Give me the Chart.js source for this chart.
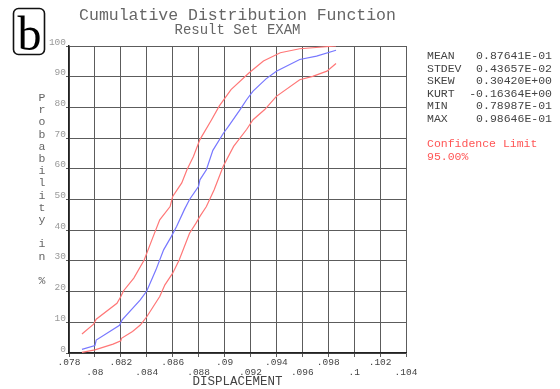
<!DOCTYPE html>
<html>
<head>
<meta charset="utf-8">
<script src="https://cdn.jsdelivr.net/npm/chart.js@4/dist/chart.umd.min.js"></script>
<style>
  html, body { margin: 0; padding: 0; background: #fff; }
  canvas { display: block; }
</style>
</head>
<body>
<canvas id="cdf" width="560" height="389"></canvas>
<script>
// Empirical CDF of the displacement results, with 95% confidence band
const centerX = [0.0790, 0.0800, 0.0801, 0.0819, 0.0821, 0.0835, 0.0840, 0.0847, 0.0853, 0.0859, 0.0863, 0.0869, 0.0873, 0.0880, 0.0881, 0.0886, 0.0891, 0.0899, 0.0903, 0.0912, 0.0917, 0.0922, 0.0932, 0.0940, 0.0958, 0.0971, 0.0986];
const centerP = [1.2, 2.4, 4.2, 9.0, 10.8, 17.3, 20.2, 27.0, 33.6, 38.0, 41.2, 46.7, 50.0, 54.3, 56.4, 59.7, 66.0, 71.5, 73.8, 79.3, 82.5, 85.3, 89.3, 91.8, 95.6, 96.7, 98.6];

const upperX = [0.0790, 0.0799, 0.0801, 0.0817, 0.0820, 0.0822, 0.0830, 0.0838, 0.0845, 0.0850, 0.0858, 0.0860, 0.0867, 0.0871, 0.0876, 0.0881, 0.0890, 0.0896, 0.0905, 0.0919, 0.0930, 0.0943, 0.0958, 0.0986];
const upperP = [6.2, 9.4, 11.0, 16.2, 18.4, 20.2, 24.4, 30.3, 38.0, 43.4, 47.7, 51.0, 55.4, 59.7, 64.0, 69.5, 76.0, 80.5, 85.8, 91.3, 95.1, 97.8, 99.1, 100.0];

const lowerX = [0.0790, 0.0800, 0.0814, 0.0820, 0.08205, 0.0829, 0.0835, 0.0840, 0.0850, 0.0854, 0.0860, 0.0865, 0.0873, 0.0878, 0.0881, 0.0886, 0.0892, 0.0899, 0.0907, 0.0917, 0.0922, 0.0931, 0.0940, 0.0958, 0.0968, 0.0979, 0.0986];
const lowerP = [0.2, 1.0, 2.9, 4.0, 4.8, 7.0, 9.1, 11.8, 18.4, 22.2, 26.0, 30.3, 39.0, 42.3, 44.5, 47.7, 53.2, 60.8, 67.3, 72.8, 76.0, 79.3, 83.6, 89.0, 90.1, 91.8, 94.3];

const xTickLabels = ['.078', '.08', '.082', '.084', '.086', '.088', '.09', '.092', '.094', '.096', '.098', '.1', '.102', '.104'];
const yTickLabels = ['0', '10', '20', '30', '40', '50', '60', '70', '80', '90', '100'];

const statNames = ['MEAN', 'STDEV', 'SKEW', 'KURT', 'MIN', 'MAX'];
const statValues = ['0.87641E-01', '0.43657E-02', '0.30420E+00', '-0.16364E+00', '0.78987E-01', '0.98646E-01'];

const MONO = '"Liberation Mono", "DejaVu Sans Mono", monospace';

function toPoints(xs, ys) {
  return xs.map((x, i) => ({ x: x, y: ys[i] }));
}

// Titles, panel letter, vertical axis caption and statistics block
const annotations = {
  id: 'annotations',
  afterDraw(chart) {
    const ctx = chart.ctx;
    const area = chart.chartArea;
    const cx = (area.left + area.right) / 2;
    ctx.save();

    // panel letter in a rounded box
    ctx.strokeStyle = '#111';
    ctx.lineWidth = 1.6;
    ctx.beginPath();
    ctx.roundRect(13.5, 8.5, 31, 46, 5);
    ctx.stroke();
    ctx.fillStyle = '#000';
    ctx.font = '48px "Liberation Serif", serif';
    ctx.textAlign = 'center';
    ctx.textBaseline = 'alphabetic';
    ctx.fillText('b', 29.5, 50);

    // titles
    ctx.fillStyle = '#666';
    ctx.textBaseline = 'middle';
    ctx.font = '16.5px ' + MONO;
    ctx.fillText('Cumulative Distribution Function', cx, 16);
    ctx.font = '14px ' + MONO;
    ctx.fillText('Result Set EXAM', cx, 30);

    // vertical caption, one upright letter per line
    const caption = 'Probability in %';
    ctx.fillStyle = '#666';
    ctx.font = '11.5px ' + MONO;
    for (let i = 0; i < caption.length; i++) {
      ctx.fillText(caption[i], 42, 98 + i * 12.2);
    }

    // statistics
    ctx.fillStyle = '#444';
    ctx.font = '11.5px ' + MONO;
    for (let i = 0; i < statNames.length; i++) {
      const y = 56 + i * 12.6;
      ctx.textAlign = 'left';
      ctx.fillText(statNames[i], 427, y);
      ctx.textAlign = 'right';
      ctx.fillText(statValues[i], 552, y);
    }
    ctx.textAlign = 'left';
    ctx.fillStyle = '#ff5555';
    ctx.fillText('Confidence Limit', 427, 144);
    ctx.fillText('95.00%', 427, 157);
    ctx.restore();
  }
};

new Chart(document.getElementById('cdf'), {
  type: 'scatter',
  data: {
    datasets: [
      { label: 'Upper limit', data: toPoints(upperX, upperP), borderColor: '#ff7777', borderWidth: 1.2 },
      { label: 'CDF', data: toPoints(centerX, centerP), borderColor: '#7777ff', borderWidth: 1.2 },
      { label: 'Lower limit', data: toPoints(lowerX, lowerP), borderColor: '#ff7777', borderWidth: 1.2 }
    ].map(d => Object.assign(d, { showLine: true, pointRadius: 0, tension: 0, fill: false }))
  },
  options: {
    responsive: false,
    animation: false,
    devicePixelRatio: 1,
    layout: { padding: { top: 46, right: 154, left: 0, bottom: 0 } },
    plugins: {
      legend: { display: false },
      tooltip: { enabled: false },
      title: { display: false }
    },
    scales: {
      x: {
        type: 'linear',
        position: 'bottom',
        min: 0.078,
        max: 0.104,
        afterBuildTicks(scale) {
          scale.ticks = xTickLabels.map(t => ({ value: parseFloat('0' + t) }));
        },
        afterFit(scale) { scale.height = 36; },
        ticks: {
          autoSkip: false,
          maxRotation: 0,
          minRotation: 0,
          padding: 1,
          color: '#444',
          font: { family: MONO, size: 9.5, lineHeight: 1.0 },
          callback: (v, i) => (i % 2 === 0 ? [xTickLabels[i], ''] : ['', xTickLabels[i]])
        },
        grid: { color: '#5c5c5c', lineWidth: 1, tickLength: 4 },
        border: { display: true, color: '#222', width: 1.5 },
        title: {
          display: true,
          text: 'DISPLACEMENT',
          color: '#444',
          font: { family: MONO, size: 12.5, lineHeight: 1.0 },
          padding: { top: 0, bottom: 1 }
        }
      },
      y: {
        type: 'linear',
        min: 0,
        max: 100,
        afterFit(scale) { scale.width = 69; },
        ticks: {
          stepSize: 10,
          padding: 0,
          labelOffset: -4,
          color: '#999',
          font: { family: MONO, size: 9.5 },
          callback: (v, i) => yTickLabels[i]
        },
        grid: { color: '#5c5c5c', lineWidth: 1, tickLength: 3 },
        border: { display: true, color: '#222', width: 1.5 }
      }
    }
  },
  plugins: [annotations]
});
</script>
</body>
</html>
